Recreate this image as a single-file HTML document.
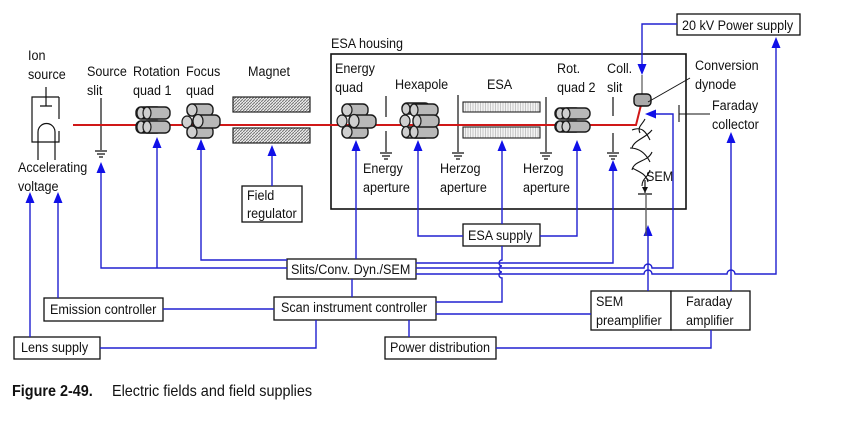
<!DOCTYPE html>
<html><head><meta charset="utf-8"><style>
html,body{margin:0;padding:0;background:#fff;}
svg{display:block;}
text{font-family:"Liberation Sans",sans-serif;font-size:14px;fill:#111;transform-box:fill-box;transform-origin:0 50%;transform:scaleX(.9);}
.b{fill:none;stroke:#2020d0;stroke-width:1.4;}
.k{fill:#fff;stroke:#111;stroke-width:1.3;}
.c{fill:#b8b8b8;stroke:#1a1a1a;stroke-width:1.4;}
.e{fill:#cfcfcf;stroke:#1a1a1a;stroke-width:1.2;}
.g{fill:none;stroke:#111;stroke-width:1.2;}
</style></head><body>
<svg width="842" height="426" viewBox="0 0 842 426" xmlns="http://www.w3.org/2000/svg">
<defs>
<pattern id="hatch" width="3" height="3" patternUnits="userSpaceOnUse"><rect width="3" height="3" fill="#eee"/><path d="M0 3L3 0" stroke="#777" stroke-width="1"/></pattern>
<pattern id="vl" width="2.5" height="4" patternUnits="userSpaceOnUse"><rect width="2.5" height="4" fill="#f4f4f4"/><path d="M0.5 0V4" stroke="#bbb" stroke-width="0.8"/></pattern>
<g id="au"><path d="M0 0 L-4.5 11 L4.5 11 Z" fill="#1010e8"/></g>
<g id="gnd"><path d="M-6 0H6M-4 3H4M-2 6H2" stroke="#111" stroke-width="1.2"/></g>
</defs>

<rect x="331" y="54" width="355" height="155" fill="none" stroke="#111" stroke-width="1.6"/>
<text x="331" y="48">ESA housing</text>

<rect class="k" x="677" y="14" width="123" height="21"/><text x="682" y="30">20 kV Power supply</text>
<rect class="k" x="242" y="186" width="60" height="36"/><text x="247" y="200">Field</text><text x="247" y="218">regulator</text>
<rect class="k" x="463" y="224" width="77" height="22"/><text x="468" y="240">ESA supply</text>
<rect class="k" x="287" y="259" width="129" height="20"/><text x="291" y="274">Slits/Conv. Dyn./SEM</text>
<rect class="k" x="44" y="298" width="119" height="23"/><text x="50" y="314">Emission controller</text>
<rect class="k" x="274" y="297" width="162" height="23"/><text x="281" y="312">Scan instrument controller</text>
<rect class="k" x="591" y="291" width="80" height="39"/><text x="596" y="306">SEM</text><text x="596" y="325">preamplifier</text>
<rect class="k" x="671" y="291" width="79" height="39"/><text x="686" y="306">Faraday</text><text x="686" y="325">amplifier</text>
<rect class="k" x="14" y="337" width="86" height="22"/><text x="21" y="352">Lens supply</text>
<rect class="k" x="385" y="337" width="111" height="22"/><text x="390" y="352">Power distribution</text>

<path class="b" d="M30 200V337M58 200V298M101 172V268H287M157 146V268M201 148V260H287M272 154V186M356 150V259"/>
<path class="b" d="M418 150V236H463M540 236H577V150M502 150V224"/>
<path class="b" d="M436 302H502V278a3 3 0 0 1 0-6V272a3 3 0 0 1 0-6V266a3 3 0 0 1 0-6V246"/>
<path class="b" d="M163 309H274M436 314H591M352 297V279M316 320V348H100M409 320V337M496 348H711V330"/>
<path class="b" d="M416 263H613V170"/>
<path class="b" d="M416 268H644a4 4 0 0 1 8 0H673V114H656"/>
<path class="b" d="M416 274H644a4 4 0 0 1 8 0H727a4 4 0 0 1 8 0H776V46"/>
<path class="b" d="M648 291V236M731 291V142M677 24H642V64"/>
<use href="#au" x="30" y="192"/><use href="#au" x="58" y="192"/>
<use href="#au" x="101" y="162"/><use href="#au" x="157" y="137"/><use href="#au" x="201" y="139"/>
<use href="#au" x="272" y="145"/><use href="#au" x="356" y="140"/><use href="#au" x="418" y="140"/>
<use href="#au" x="502" y="140"/><use href="#au" x="577" y="140"/><use href="#au" x="613" y="160"/>
<use href="#au" x="648" y="225"/><use href="#au" x="731" y="132"/><use href="#au" x="776" y="37"/>
<use href="#au" transform="translate(642 75) rotate(180)"/>
<path d="M645 114 L656 109.5 L656 118.5Z" fill="#1010e8"/>

<path class="g" d="M59 97H32V142H59V131M59 97V119"/>
<path class="g" d="M46 87V106M40 106H52"/>
<path class="g" d="M38 160V132a8 8 0 0 1 17 0V160"/>
<text x="28" y="60">Ion</text><text x="28" y="79">source</text>
<text x="18" y="172">Accelerating</text><text x="18" y="191">voltage</text>

<path class="g" d="M101 98V150"/><use href="#gnd" x="101" y="151"/>
<text x="87" y="76">Source</text><text x="87" y="95">slit</text>
<text x="133" y="76">Rotation</text><text x="133" y="95">quad 1</text>
<text x="186" y="76">Focus</text><text x="186" y="95">quad</text>
<text x="248" y="76">Magnet</text>

<rect x="233" y="97" width="77" height="15" fill="url(#hatch)" stroke="#222" stroke-width="1.2"/>
<rect x="233" y="128" width="77" height="15" fill="url(#hatch)" stroke="#222" stroke-width="1.2"/>

<rect x="463" y="102" width="77" height="10" fill="url(#vl)" stroke="#222" stroke-width="1.1"/>
<rect x="463" y="127" width="77" height="11" fill="url(#vl)" stroke="#222" stroke-width="1.1"/>

<path class="g" d="M386 96V117M386 131V152"/><use href="#gnd" x="386" y="153"/>
<path class="g" d="M458 95V152"/><use href="#gnd" x="458" y="153"/>
<path class="g" d="M546 97V152"/><use href="#gnd" x="546" y="153"/>
<path class="g" d="M613 97V116M613 133V152"/><use href="#gnd" x="613" y="153"/>

<path d="M73 125H636L641 105" fill="none" stroke="#d01818" stroke-width="2"/>

<g>
<rect class="c" x="136" y="107" width="26" height="12" rx="5"/><rect class="c" x="142" y="107" width="28" height="12" rx="5"/>
<rect class="c" x="136" y="121" width="26" height="12" rx="5"/><rect class="c" x="142" y="121" width="28" height="12" rx="5"/>
<ellipse class="e" cx="141" cy="113" rx="4" ry="6"/><ellipse class="e" cx="141" cy="127" rx="4" ry="6"/>
<ellipse class="e" cx="147" cy="113" rx="4" ry="6"/><ellipse class="e" cx="147" cy="127" rx="4" ry="6"/>
</g>
<g>
<ellipse class="e" cx="187" cy="122" rx="5" ry="6"/>
<rect class="c" x="187" y="104" width="26" height="12" rx="5"/><ellipse class="e" cx="192" cy="110" rx="5" ry="6"/>
<rect class="c" x="187" y="126" width="26" height="12" rx="5"/><ellipse class="e" cx="192" cy="132" rx="5" ry="6"/>
<rect class="c" x="193" y="115" width="27" height="13" rx="5"/><ellipse class="e" cx="198" cy="121" rx="5" ry="6.5"/>
</g>
<g>
<ellipse class="e" cx="342" cy="121" rx="5" ry="6"/>
<rect class="c" x="342" y="104" width="26" height="12" rx="5"/><ellipse class="e" cx="347" cy="110" rx="5" ry="6"/>
<rect class="c" x="342" y="126" width="26" height="12" rx="5"/><ellipse class="e" cx="347" cy="132" rx="5" ry="6"/>
<rect class="c" x="349" y="115" width="27" height="13" rx="5"/><ellipse class="e" cx="354" cy="121" rx="5" ry="6.5"/>
</g>
<g>
<rect class="c" x="402" y="103" width="28" height="11" rx="5"/><rect class="c" x="402" y="127" width="28" height="11" rx="5"/>
<ellipse class="e" cx="405" cy="121" rx="5" ry="6"/>
<ellipse class="e" cx="406" cy="109" rx="4" ry="5.5"/><ellipse class="e" cx="406" cy="132" rx="4" ry="5.5"/>
<rect class="c" x="410" y="104" width="28" height="12" rx="5"/><ellipse class="e" cx="414" cy="110" rx="4" ry="6"/>
<rect class="c" x="410" y="126" width="28" height="12" rx="5"/><ellipse class="e" cx="414" cy="132" rx="4" ry="6"/>
<rect class="c" x="413" y="115" width="26" height="12" rx="5"/><ellipse class="e" cx="417" cy="121" rx="4" ry="6"/>
</g>
<g>
<rect class="c" x="555" y="108" width="26" height="11" rx="5"/><rect class="c" x="562" y="108" width="28" height="11" rx="5"/>
<rect class="c" x="555" y="121" width="26" height="11" rx="5"/><rect class="c" x="562" y="121" width="28" height="11" rx="5"/>
<ellipse class="e" cx="560" cy="113.5" rx="4" ry="5.5"/><ellipse class="e" cx="560" cy="126.5" rx="4" ry="5.5"/>
<ellipse class="e" cx="566" cy="113.5" rx="4" ry="5.5"/><ellipse class="e" cx="566" cy="126.5" rx="4" ry="5.5"/>
</g>

<path d="M642 75V94" stroke="#555" stroke-width="1.2"/>
<rect x="634" y="94" width="17" height="12" rx="4" fill="#aaa" stroke="#111" stroke-width="1.4"/>
<path d="M648 102L690 78" stroke="#111" stroke-width="1"/>
<path d="M645 119c-3 6-8 8-5 14 M632 130c10-4 14 2 18 10 M652 130c-6 8-18 10-20 18 M630 148c10 0 16 6 20 14 M652 152c-4 10-18 8-20 18 M632 168c8 4 14 6 16 14 M650 170c-2 8-8 8-8 16" fill="none" stroke="#111" stroke-width="1.1"/>
<path d="M645 180V193M638 194H652" stroke="#111" stroke-width="1.2"/>
<path d="M645 193L642 187H648Z" fill="#111"/>
<path d="M646 195V236" stroke="#555" stroke-width="1.3"/>
<path d="M679 105V122M679 114H710" stroke="#111" stroke-width="1.1"/>

<text x="335" y="73">Energy</text><text x="335" y="92">quad</text>
<text x="395" y="89">Hexapole</text>
<text x="487" y="89">ESA</text>
<text x="557" y="73">Rot.</text><text x="557" y="92">quad 2</text>
<text x="607" y="73">Coll.</text><text x="607" y="92">slit</text>
<text x="695" y="70">Conversion</text><text x="695" y="89">dynode</text>
<text x="712" y="110">Faraday</text><text x="712" y="129">collector</text>
<text x="363" y="173">Energy</text><text x="363" y="192">aperture</text>
<text x="440" y="173">Herzog</text><text x="440" y="192">aperture</text>
<text x="523" y="173">Herzog</text><text x="523" y="192">aperture</text>
<text x="646" y="181">SEM</text>

<text x="12" y="396" style="font-weight:bold;font-size:16px">Figure 2-49.</text>
<text x="112" y="396" style="font-size:16px">Electric fields and field supplies</text>
</svg>
</body></html>
